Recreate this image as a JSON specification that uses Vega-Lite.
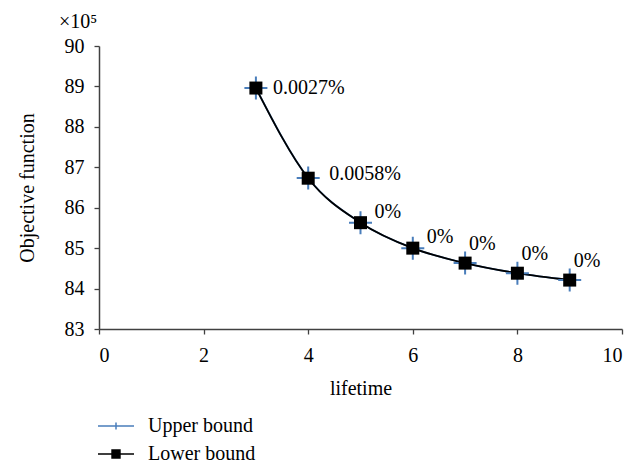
{
  "$schema": "https://vega.github.io/schema/vega-lite/v6.json",
  "width": 523,
  "height": 283,
  "autosize": {"type": "none"},
  "padding": {"left": 99, "top": 46, "right": 21, "bottom": 135},
  "background": "white",
  "title": {"text": "×10⁵", "anchor": "start", "frame": "group", "dx": -40, "offset": 4, "fontSize": 20, "fontWeight": "normal", "font": "Liberation Serif", "color": "black"},
  "config": {
    "font": "Liberation Serif",
    "view": {"stroke": null},
    "title": {"font": "Liberation Serif", "fontSize": 20, "fontWeight": "normal"},
    "text": {"font": "Liberation Serif"},
    "legend": {"labelFont": "Liberation Serif", "labelFontSize": 20},
    "axis": {"grid": false, "domainColor": "#404040", "tickColor": "#404040", "domainWidth": 1.5, "tickWidth": 1.3, "tickSize": 5, "labelFontSize": 20, "labelColor": "black", "titleFontSize": 20, "titleFontWeight": "normal", "titleColor": "black", "labelFont": "Liberation Serif", "titleFont": "Liberation Serif"}
  },
  "data": {"values": [
    {"series": "Upper bound", "lifetime": 3, "value": 88.962, "label": "0.0027%"},
    {"series": "Upper bound", "lifetime": 4, "value": 86.735, "label": "0.0058%"},
    {"series": "Upper bound", "lifetime": 5, "value": 85.63, "label": "0%"},
    {"series": "Upper bound", "lifetime": 6, "value": 85.0, "label": "0%"},
    {"series": "Upper bound", "lifetime": 7, "value": 84.63, "label": "0%"},
    {"series": "Upper bound", "lifetime": 8, "value": 84.38, "label": "0%"},
    {"series": "Upper bound", "lifetime": 9, "value": 84.21, "label": "0%"},
    {"series": "Lower bound", "lifetime": 3, "value": 88.96, "label": "0.0027%"},
    {"series": "Lower bound", "lifetime": 4, "value": 86.73, "label": "0.0058%"},
    {"series": "Lower bound", "lifetime": 5, "value": 85.63, "label": "0%"},
    {"series": "Lower bound", "lifetime": 6, "value": 85.0, "label": "0%"},
    {"series": "Lower bound", "lifetime": 7, "value": 84.63, "label": "0%"},
    {"series": "Lower bound", "lifetime": 8, "value": 84.38, "label": "0%"},
    {"series": "Lower bound", "lifetime": 9, "value": 84.21, "label": "0%"}
  ]},
  "encoding": {
    "x": {"field": "lifetime", "type": "quantitative", "scale": {"domain": [0, 10]}, "axis": {"values": [0, 2, 4, 6, 8, 10], "title": "lifetime", "labelPadding": 11, "titlePadding": 13, "labelFont": "Liberation Serif", "titleFont": "Liberation Serif", "labelFontSize": 20}},
    "y": {"field": "value", "type": "quantitative", "scale": {"domain": [83, 90]}, "axis": {"values": [83, 84, 85, 86, 87, 88, 89, 90], "title": "Objective function", "labelPadding": 10, "titlePadding": 27, "labelFont": "Liberation Serif", "titleFont": "Liberation Serif", "labelFontSize": 20}}
  },
  "layer": [
    {
      "mark": {"type": "line", "interpolate": "monotone", "strokeWidth": 1.8},
      "encoding": {
        "color": {"field": "series", "type": "nominal", "sort": ["Upper bound", "Lower bound"], "scale": {"domain": ["Upper bound", "Lower bound"], "range": ["#4a7ebb", "#000000"]},
          "legend": {"orient": "none", "legendX": 7, "legendY": 370, "direction": "vertical", "title": null, "padding": 0, "symbolSize": 324, "labelOffset": 22, "rowPadding": 8, "labelFontSize": 20, "labelColor": "black", "labelFont": "Liberation Serif",
            "encode": {"symbols": {"update": {
              "shape": {"signal": "datum.value === 'Lower bound' ? 'M-2,0H2M-0.44,-0.44H0.44V0.44H-0.44Z' : 'M-2,0H2M0,-0.4V0.4'"},
              "fill": {"signal": "datum.value === 'Lower bound' ? '#000000' : 'transparent'"},
              "strokeWidth": {"value": 1.5}
            }}}}
        }
      }
    },
    {
      "transform": [{"filter": "datum.series === 'Upper bound'"}],
      "mark": {"type": "point", "shape": "M-1,0H1M0,-1V1", "filled": false, "color": "#4a7ebb", "strokeWidth": 2, "size": 529, "opacity": 1}
    },
    {
      "transform": [{"filter": "datum.series === 'Lower bound'"}],
      "mark": {"type": "point", "shape": "square", "filled": true, "color": "#000000", "size": 169, "opacity": 1}
    },
    {
      "transform": [{"filter": "datum.series === 'Lower bound' && datum.lifetime === 3"}],
      "mark": {"type": "text", "align": "left", "baseline": "middle", "dx": 17, "dy": 0, "fontSize": 20, "font": "Liberation Serif", "color": "black"},
      "encoding": {"text": {"field": "label"}}
    },
    {
      "transform": [{"filter": "datum.series === 'Lower bound' && datum.lifetime === 4"}],
      "mark": {"type": "text", "align": "left", "baseline": "middle", "dx": 21, "dy": -4, "fontSize": 20, "font": "Liberation Serif", "color": "black"},
      "encoding": {"text": {"field": "label"}}
    },
    {
      "transform": [{"filter": "datum.series === 'Lower bound' && (datum.lifetime === 5 || datum.lifetime === 6)"}],
      "mark": {"type": "text", "align": "left", "baseline": "middle", "dx": 14, "dy": -11, "fontSize": 20, "font": "Liberation Serif", "color": "black"},
      "encoding": {"text": {"field": "label"}}
    },
    {
      "transform": [{"filter": "datum.series === 'Lower bound' && datum.lifetime >= 7"}],
      "mark": {"type": "text", "align": "left", "baseline": "middle", "dx": 4, "dy": -19, "fontSize": 20, "font": "Liberation Serif", "color": "black"},
      "encoding": {"text": {"field": "label"}}
    }
  ]
}
